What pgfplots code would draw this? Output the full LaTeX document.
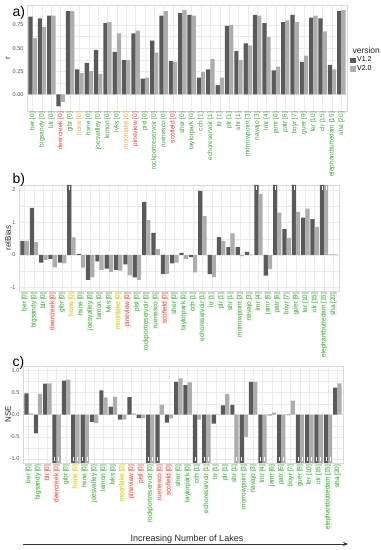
\documentclass[border=0pt]{standalone}
\usepackage{pgfplots}
\pgfplotsset{compat=1.18}
\usepackage{pgfplotstable}
\usetikzlibrary{arrows.meta}
\usepackage{fontspec}
\setmainfont{Liberation Sans}
\definecolor{dk}{HTML}{5A5A5A}
\definecolor{lt}{HTML}{ADADAD}
\definecolor{gridc}{HTML}{EBEBEB}
\definecolor{bordc}{HTML}{D9D9D9}
\definecolor{tickc}{HTML}{4D4D4D}
\definecolor{ga}{HTML}{3E9B3E}
\definecolor{ra}{HTML}{E8373A}
\definecolor{oa}{HTML}{F5A42A}
\definecolor{gt}{HTML}{4F9A3C}
\definecolor{gbg}{HTML}{EEFAF2}
\definecolor{rt}{HTML}{C4583A}
\definecolor{rbg}{HTML}{FDEEF0}
\definecolor{yt}{HTML}{C9C62A}
\definecolor{ybg}{HTML}{FAFAE3}
\setlength{\fboxsep}{0.6bp}
\newcommand{\xf}{\fontsize{6.5bp}{7bp}\selectfont}
\newcommand{\LG}[1]{\hbox{\xf\textcolor{ga}{#1}}}
\newcommand{\LR}[1]{\hbox{\xf\textcolor{ra}{#1}}}
\newcommand{\LO}[1]{\hbox{\xf\textcolor{oa}{#1}}}
\newcommand{\BG}[1]{\hbox{\xf\colorbox{gbg}{\textcolor{gt}{#1}}}}
\newcommand{\BR}[1]{\hbox{\xf\colorbox{rbg}{\textcolor{rt}{#1}}}}
\newcommand{\BY}[1]{\hbox{\xf\colorbox{ybg}{\textcolor{yt}{#1}}}}
\tikzset{ylab/.style={rotate=90, font=\fontsize{8bp}{9bp}\selectfont, text=black!85}}

\pgfplotstableread{
x a b
1 0.84 0.61
2 0.82 0.73
3 0.85 0.85
4 -0.13 -0.08
5 0.90 0.90
6 0.27 0.23
7 0.34 0.25
8 0.48 0.22
9 0.77 0.78
10 0.46 0.66
11 0.37 0.37
12 0.66 0.69
13 0.17 0.18
14 0.58 0.45
15 0.85 0.90
16 0.36 0.35
17 0.88 0.91
18 0.86 0.85
19 0.18 0.24
20 0.27 0.38
21 0.10 0.18
22 0.74 0.75
23 0.47 0.37
24 0.55 0.53
25 0.86 0.85
26 0.77 0.62
27 0.26 0.30
28 0.78 0.80
29 0.86 0.78
30 0.35 0.42
31 0.83 0.85
32 0.82 0.68
33 0.32 0.27
34 0.90 0.91
}\tabA

\pgfplotstableread{
x a b
1 0.43 0.43
2 1.45 0.39
3 -0.24 -0.15
4 -0.12 -0.38
5 -0.24 -0.26
6 2.15 0.54
7 0.03 -0.39
8 -0.77 -0.69
9 -0.20 -0.46
10 -0.42 -0.52
11 -0.46 -0.48
12 -0.29 -0.63
13 -0.69 -0.77
14 1.63 1.07
15 0.68 0.18
16 -0.58 -0.58
17 -0.26 -0.24
18 0.06 -0.12
19 -0.07 -0.54
20 1.97 1.19
21 -0.59 -0.68
22 0.55 0.43
23 0.24 0.66
24 0.24 -0.04
25 0.09 0.01
26 2.15 1.87
27 -0.64 -0.43
28 2.15 1.30
29 0.79 0.52
30 2.15 1.32
31 1.15 1.42
32 1.10 0.86
33 2.15 2.15
34 0.01 0.02
}\tabB

\pgfplotstableread{
x a b
1 0.48 0.03
2 -0.42 0.47
3 0.70 0.71
4 -1.09 -1.09
5 0.77 0.79
6 -1.09 -1.09
7 -1.09 -1.09
8 -0.16 -0.19
9 0.55 0.39
10 0.18 0.41
11 -0.11 -0.11
12 0.40 0.03
13 -0.075 -0.08
14 -1.09 -1.09
15 -1.09 0.23
16 -0.18 -0.08
17 0.74 0.82
18 0.67 0.73
19 -1.09 -0.11
20 -1.09 -1.09
21 -0.20 -0.01
22 0.21 0.47
23 0.22 -1.09
24 -1.09 -0.50
25 0.74 0.74
26 -1.09 -1.09
27 -0.015 0.045
28 -1.09 -1.09
29 -0.01 0.32
30 -1.09 -1.09
31 -1.09 -1.09
32 -1.09 -1.09
33 -1.09 -1.09
34 0.61 0.71
}\tabC

\pgfplotsset{
  common/.style={
    scale only axis, width=320bp,
    xmin=0.4, xmax=34.6, xtick={1,...,34},
    major tick length=0pt, minor tick length=0pt,
    grid=both, minor y tick num=1,
    major grid style={draw=gridc, line width=0.5bp},
    minor grid style={draw=gridc, line width=0.25bp},
    axis line style={draw=bordc, line width=0.4bp},
    xticklabel style={rotate=90, anchor=east, inner sep=0.8bp},
    yticklabel style={font=\fontsize{5.6bp}{6bp}\selectfont, text=tickc, /pgf/number format/assume math mode=true},
  },
  bdk/.style={ybar, bar width=0.45, bar shift=-0.225, fill=dk, draw=none, forget plot},
  blt/.style={ybar, bar width=0.45, bar shift=0.225, fill=lt, draw=none, forget plot},
  clipm/.style={only marks, mark=|, mark size=1.8bp, mark options={draw=white, line width=0.6bp}, forget plot},
}

\begin{document}
\begin{tikzpicture}
\path[use as bounding box] (0,0) rectangle (381bp,550bp);

% ---------- panel a ----------
\begin{axis}[common, at={(27bp,545bp)}, anchor=north west, height=106bp,
  ymin=-0.18, ymax=0.966, ytick={0,0.25,0.5,0.75},
  yticklabel style={/pgf/number format/.cd, fixed, fixed zerofill, precision=2},
  xticklabels={\LG{ber [0]},\LG{bigsandy [0]},\LG{blr [0]},\LR{deercreek [0]},\LG{gibr [0]},\LO{hone [0]},\LG{hsne [0]},\LG{joesvalley [0]},\LG{lemon [0]},\LG{lvks [0]},\LO{moonlake [0]},\LR{pineview [0]},\LG{pisl [0]},\LG{rockportreservoir [0]},\LG{ruenesco [0]},\LR{scofield [0]},\LG{sher [0]},\LG{taylorpark [0]},\LG{cch [1]},\LG{echoreservoir [1]},\LG{ltr [1]},\LG{plr [1]},\LG{shr [1]},\LG{morrowpoint [3]},\LG{navajo [3]},\LG{lmr [4]},\LG{jamr [6]},\LG{patr [6]},\LG{boyr [7]},\LG{guer [9]},\LG{ler [10]},\LG{clr [15]},\LG{elephantbuttedam [15]},\LG{sha [20]}},
  legend style={at={(rel axis cs:1,0.54)}, anchor=north west, draw=none, fill=none,
    font=\fontsize{7bp}{7bp}\selectfont, inner sep=1bp, row sep=-1.5bp, cells={anchor=west}, xshift=2bp},
]
\addplot[bdk] table[x=x,y=a] {\tabA};
\addplot[blt] table[x=x,y=b] {\tabA};
\addlegendimage{legend image code/.code={\fill[dk] (0bp,-2.4bp) rectangle (4.5bp,2.4bp);}}
\addlegendentry{V1.2}
\addlegendimage{legend image code/.code={\fill[lt] (0bp,-2.4bp) rectangle (4.5bp,2.4bp);}}
\addlegendentry{V2.0}
\end{axis}
\node[ylab] at (8bp,492bp) {r};
\node[anchor=west, font=\fontsize{8.5bp}{9bp}\selectfont, text=black!85] at (349bp,500bp) {version};
\node[anchor=west, font=\fontsize{14bp}{15bp}\selectfont] at (9bp,537.5bp) {a)};

% ---------- panel b ----------
\begin{axis}[common, at={(19bp,365bp)}, anchor=north west, height=106bp,
  ymin=-1.11, ymax=2.15, ytick={-1,0,1,2},
  xticklabels={\BG{ber [0]},\BG{bigsandy [0]},\BG{blr [0]},\BR{deercreek [0]},\BG{gibr [0]},\BY{hone [0]},\BG{hsne [0]},\BG{joesvalley [0]},\BG{lemon [0]},\BG{lvks [0]},\BY{moonlake [0]},\BR{pineview [0]},\BG{pisl [0]},\BG{rockportreservoir [0]},\BG{ruenesco [0]},\BR{scofield [0]},\BG{sher [0]},\BG{taylorpark [0]},\BG{cch [1]},\BG{echoreservoir [1]},\BG{ltr [1]},\BG{plr [1]},\BG{shr [1]},\BG{morrowpoint [3]},\BG{navajo [3]},\BG{lmr [4]},\BG{jamr [6]},\BG{patr [6]},\BG{boyr [7]},\BG{guer [9]},\BG{ler [10]},\BG{clr [15]},\BG{elephantbuttedam [15]},\BG{sha [20]}},
]
\addplot[bdk] table[x=x,y=a] {\tabB};
\addplot[blt] table[x=x,y=b] {\tabB};
\addplot[clipm] coordinates {(5.775,2.06) (25.775,2.06) (27.775,2.06) (29.775,2.06) (32.775,2.06) (33.225,2.06)};
\end{axis}
\node[ylab] at (8bp,312bp) {relBias};
\node[anchor=west, font=\fontsize{14bp}{15bp}\selectfont] at (9bp,370bp) {b)};

% ---------- panel c ----------
\begin{axis}[common, at={(23bp,184bp)}, anchor=north west, height=97bp,
  ymin=-1.09, ymax=1.1, ytick={-1,-0.5,0,0.5,1},
  yticklabel style={/pgf/number format/.cd, fixed, fixed zerofill, precision=1},
  xticklabels={\BG{ber [0]},\BG{bigsandy [0]},\BR{blr [0]},\BR{deercreek [0]},\BG{gibr [0]},\BY{hone [0]},\BG{hsne [0]},\BG{joesvalley [0]},\BG{lemon [0]},\BG{lvks [0]},\BY{moonlake [0]},\BR{pineview [0]},\BR{pisl [0]},\BG{rockportreservoir [0]},\BR{ruenesco [0]},\BR{scofield [0]},\BG{sher [0]},\BG{taylorpark [0]},\BG{cch [1]},\BG{echoreservoir [1]},\BG{ltr [1]},\BG{plr [1]},\BG{shr [1]},\BG{morrowpoint [3]},\BG{navajo [3]},\BG{lmr [4]},\BG{jamr [6]},\BG{patr [6]},\BG{boyr [7]},\BG{guer [9]},\BG{ler [10]},\BG{clr [15]},\BG{elephantbuttedam [15]},\BG{sha [20]}},
]
\addplot[bdk] table[x=x,y=a] {\tabC};
\addplot[blt] table[x=x,y=b] {\tabC};
\addplot[clipm] coordinates {(3.775,-1.0) (5.775,-1.0) (6.775,-1.0) (13.775,-1.0) (14.775,-1.0) (18.775,-1.0) (19.775,-1.0) (23.775,-1.0) (25.775,-1.0) (27.775,-1.0) (29.775,-1.0) (30.775,-1.0) (31.775,-1.0) (32.775,-1.0)};
\addplot[clipm] coordinates {(4.225,-1.0) (6.225,-1.0) (7.225,-1.0) (14.225,-1.0) (20.225,-1.0) (23.225,-1.0) (26.225,-1.0) (28.225,-1.0) (30.225,-1.0) (31.225,-1.0) (32.225,-1.0) (33.225,-1.0)};
\end{axis}
\node[ylab] at (8bp,135.5bp) {NSE};
\node[anchor=west, font=\fontsize{14bp}{15bp}\selectfont] at (9bp,187bp) {c)};

% ---------- bottom arrow ----------
\node[font=\fontsize{9bp}{10bp}\selectfont, text=black!85] at (187bp,11bp) {Increasing Number of Lakes};
\draw[-{Stealth[length=5bp,width=4bp]}, line width=0.8bp, black!80] (23bp,6bp) -- (348bp,6bp);
\end{tikzpicture}
\end{document}
